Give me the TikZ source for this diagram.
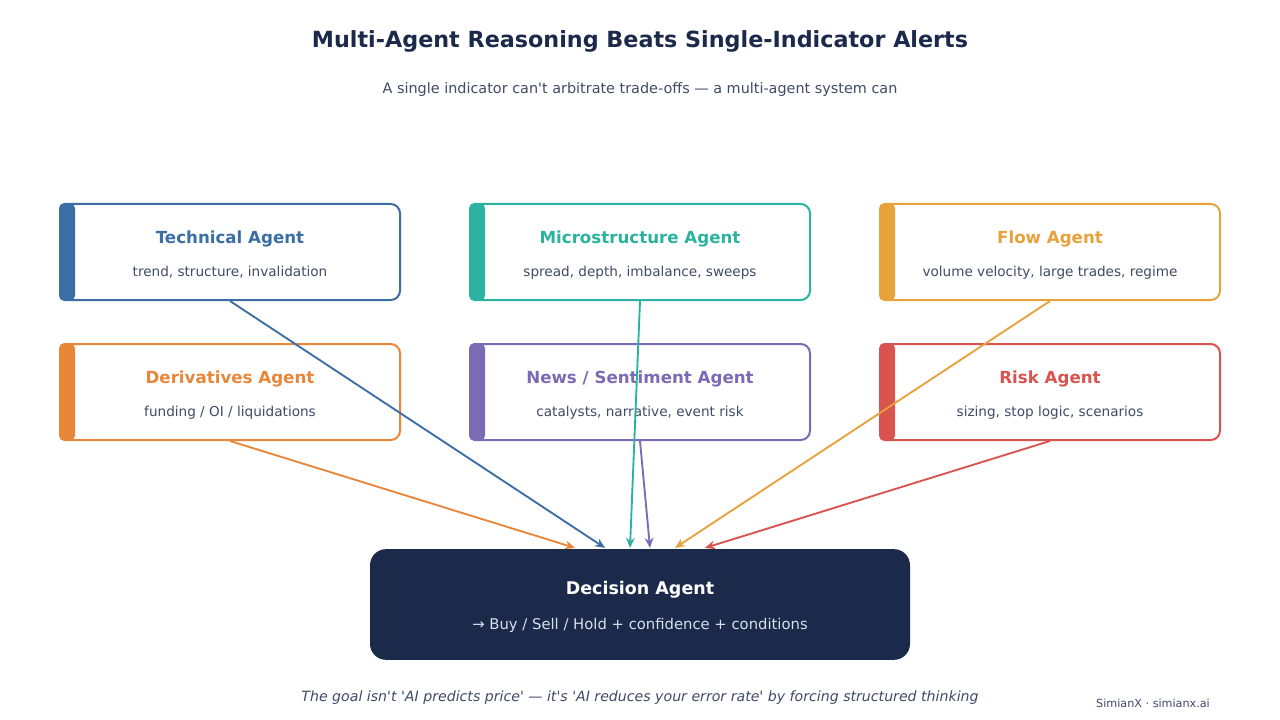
\documentclass[tikz,border=0pt]{standalone}
\usepackage{fontspec}
\setmainfont{DejaVu Sans}[Ligatures=TeXOff]
\usetikzlibrary{arrows.meta,calc}
\definecolor{navy}{HTML}{1B2A4A}
\definecolor{subgray}{HTML}{3F4B66}
\definecolor{ctech}{HTML}{3A6EA5}
\definecolor{cmicro}{HTML}{2BB3A0}
\definecolor{cflow}{HTML}{E8A23C}
\definecolor{cderiv}{HTML}{E8873A}
\definecolor{cnews}{HTML}{7B6BB5}
\definecolor{crisk}{HTML}{D9534F}
\definecolor{decsub}{HTML}{D8DEEA}
\tikzset{
  agentbox/.style={draw=#1, line width=1.5pt, rounded corners=7pt, fill=white,
    minimum width=255pt, minimum height=72pt, inner sep=0pt},
  accent/.style={fill=#1, rounded corners=4pt},
  agenttitle/.style={text=#1, font=\fontsize{12.5}{15}\selectfont\bfseries, inner sep=0pt},
  agentsub/.style={text=subgray, font=\fontsize{10.2}{12}\selectfont, inner sep=0pt},
  link/.style={draw=#1, line width=1.4pt, -{Stealth[length=7.5pt,width=6.5pt]}},
}
\begin{document}
\begin{tikzpicture}[x=0.75pt,y=-0.75pt]
\useasboundingbox (0,0) rectangle (1280,720);
\fill[white] (0,0) rectangle (1280,720);
% title
\node[text=navy, font=\fontsize{16.7}{20}\selectfont\bfseries] (title) at (640,41) {Multi-Agent Reasoning Beats Single-Indicator Alerts};
\node[text=subgray, font=\fontsize{10.8}{13}\selectfont] (subtitle) at (640,89.5) {A single indicator can't arbitrate trade-offs — a multi-agent system can};
% boxes
\foreach \nm/\cx/\cy/\col/\ttl/\sub in {
  tech/230/252/ctech/{Technical Agent}/{trend, structure, invalidation},
  micro/640/252/cmicro/{Microstructure Agent}/{spread, depth, imbalance, sweeps},
  flow/1050/252/cflow/{Flow Agent}/{volume velocity, large trades, regime},
  deriv/230/392/cderiv/{Derivatives Agent}/{funding / OI / liquidations},
  news/640/392/cnews/{News / Sentiment Agent}/{catalysts, narrative, event risk},
  risk/1050/392/crisk/{Risk Agent}/{sizing, stop logic, scenarios}}{
  \node[agentbox=\col] (\nm) at (\cx,\cy) {};
  \fill[accent=\col] ($(\nm.north west)$) rectangle ($(\nm.south west)+(16,0)$);
  \node[agenttitle=\col] (\nm-t) at (\cx,\cy-13.5) {\ttl};
  \node[agentsub] (\nm-s) at (\cx,\cy+20.5) {\sub};
}
% decision
\node[fill=navy, rounded corners=12pt, minimum width=405pt, minimum height=83pt, inner sep=0pt] (dec) at (640,604.5) {};
\node[text=white, font=\fontsize{13.1}{16}\selectfont\bfseries] (dec-t) at (640,589.5) {Decision Agent};
\node[text=decsub, font=\fontsize{11.1}{13}\selectfont] (dec-s) at (640,625.5) {→ Buy / Sell / Hold + confidence + conditions};
% arrow ends
\coordinate (e-deriv) at ($(dec.north)+(-65,-1)$);
\coordinate (e-tech) at ($(dec.north)+(-35,-1)$);
\coordinate (e-micro) at ($(dec.north)+(-10,-1)$);
\coordinate (e-news) at ($(dec.north)+(10,-1)$);
\coordinate (e-flow) at ($(dec.north)+(35,-1)$);
\coordinate (e-risk) at ($(dec.north)+(65,-1)$);
\draw[link=ctech] (tech.south) -- (e-tech);
\draw[link=cmicro] (micro.south) -- (e-micro);
\draw[link=cflow] (flow.south) -- (e-flow);
\draw[link=cderiv] (deriv.south) -- (e-deriv);
\draw[link=cnews] (news.south) -- (e-news);
\draw[link=crisk] (risk.south) -- (e-risk);
% footer
\node[text=subgray, font=\fontsize{10.6}{13}\selectfont\itshape] (footer) at (640,697.5) {The goal isn't 'AI predicts price' — it's 'AI reduces your error rate' by forcing structured thinking};
\node[text=subgray, font=\fontsize{8.4}{10}\selectfont] (credit) at (1153,703) {SimianX · simianx.ai};
\end{tikzpicture}
\end{document}
